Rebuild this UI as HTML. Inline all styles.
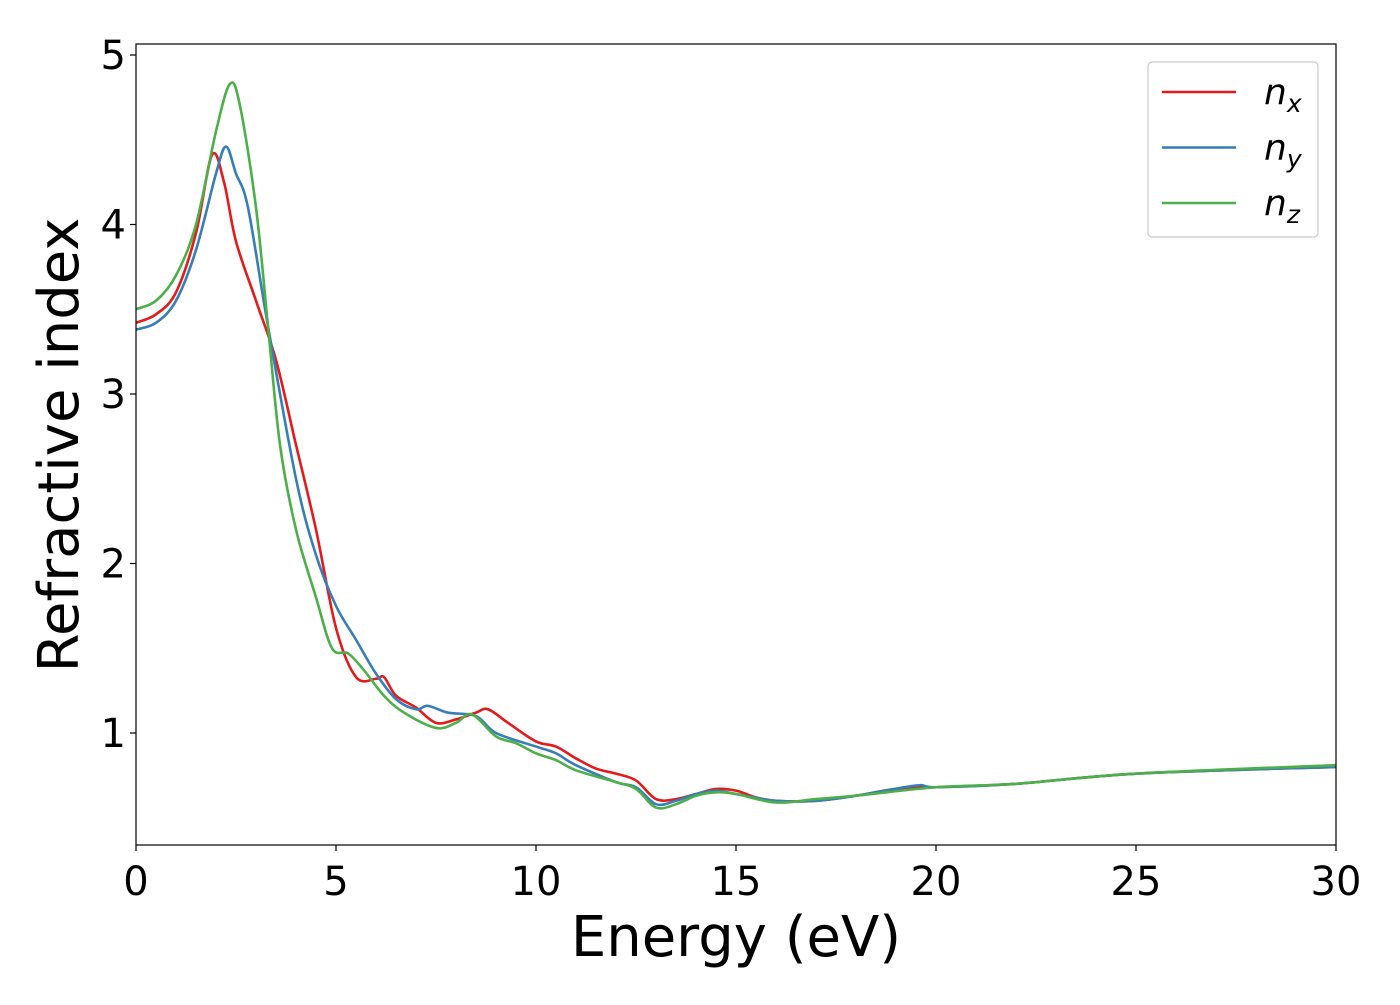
<!DOCTYPE html>
<html><head><meta charset="utf-8"><style>
body{margin:0;background:#fff;}
svg text{font-family:"DejaVu Sans","Liberation Sans",sans-serif;fill:#000;}
</style></head><body>
<svg id="chart" width="1400" height="1000" xmlns="http://www.w3.org/2000/svg"></svg>
<script>
const xTicks=[0,5,10,15,20,25,30];
const yTicks=[1,2,3,4,5];
const nxE=[0,0.5,1,1.5,1.9,2.2,2.5,3,3.5,4,4.5,5,5.5,6,6.2,6.5,7,7.5,8,8.5,8.8,9.3,10,10.5,11,11.5,12,12.5,13,13.5,14,14.5,15,15.5,16,17,18,19,20,22,25,30];
const nxV=[3.42,3.47,3.6,3.95,4.41,4.25,3.9,3.55,3.2,2.7,2.2,1.62,1.33,1.32,1.33,1.22,1.15,1.06,1.08,1.12,1.14,1.06,0.95,0.92,0.85,0.79,0.76,0.72,0.61,0.61,0.64,0.67,0.66,0.62,0.6,0.6,0.63,0.67,0.68,0.70,0.76,0.80];
const nyE=[0,0.5,1,1.5,2,2.25,2.5,2.8,3.3,4,4.5,5,5.5,6,6.5,7,7.3,7.8,8.5,9,10,10.5,11,12,12.5,13,13.5,14,14.5,15,16,17,18,19.5,20,22,25,30];
const nyV=[3.38,3.42,3.55,3.85,4.3,4.46,4.3,4.1,3.4,2.5,2.05,1.75,1.55,1.35,1.2,1.14,1.16,1.12,1.1,1.0,0.92,0.88,0.81,0.71,0.68,0.58,0.60,0.64,0.66,0.64,0.6,0.6,0.63,0.69,0.68,0.70,0.76,0.80];
const nzE=[0,0.5,1,1.5,2,2.35,2.6,3,3.3,3.6,4,4.5,4.9,5.3,5.7,6.2,6.7,7.5,8,8.4,9,9.5,10,10.5,11,12,12.5,13,13.5,14,14.5,15,16,17,18,20,22,25,30];
const nzV=[3.5,3.55,3.7,4.0,4.55,4.83,4.7,4.1,3.4,2.7,2.2,1.8,1.5,1.47,1.37,1.22,1.12,1.03,1.06,1.11,0.98,0.94,0.88,0.84,0.78,0.71,0.67,0.56,0.58,0.63,0.65,0.64,0.59,0.61,0.63,0.68,0.70,0.76,0.81];

const svg=document.getElementById('chart');
const NS='http://www.w3.org/2000/svg';
const L=136,R=1336,T=44,B=845;
const X=v=>L+(v/30)*(R-L);
const Y=v=>733-(v-1)*169.5;
function mk(tag,attrs,parent){const e=document.createElementNS(NS,tag);for(const k in attrs)e.setAttribute(k,attrs[k]);(parent||svg).appendChild(e);return e;}
function smooth(E,V){const p=E.map((e,i)=>[X(e),Y(V[i])]);let d='M'+p[0][0]+','+p[0][1];
for(let i=0;i<p.length-1;i++){const p0=p[i-1]||p[i],p1=p[i],p2=p[i+1],p3=p[i+2]||p2;
const c1=[p1[0]+(p2[0]-p0[0])/6,p1[1]+(p2[1]-p0[1])/6],c2=[p2[0]-(p3[0]-p1[0])/6,p2[1]-(p3[1]-p1[1])/6];
d+=`C${c1[0]},${c1[1]} ${c2[0]},${c2[1]} ${p2[0]},${p2[1]}`;}return d;}
const clip=mk('clipPath',{id:'pc'});mk('rect',{x:L,y:T,width:R-L,height:B-T},clip);
const series=[[nxE,nxV,'#e41a1c','series-nx'],[nyE,nyV,'#377eb8','series-ny'],[nzE,nzV,'#4daf4a','series-nz']];
series.forEach(s=>{const p=mk('path',{d:smooth(s[0],s[1]),fill:'none',stroke:s[2],'stroke-width':2.6,'clip-path':'url(#pc)'});

});
const frame=mk('rect',{x:L,y:T,width:R-L,height:B-T,fill:'none',stroke:'#000','stroke-width':1.2});


xTicks.forEach(t=>{mk('line',{x1:X(t),x2:X(t),y1:B,y2:B+6,stroke:'#000','stroke-width':1.2});
const tx=mk('text',{x:X(t),y:B+50,'font-size':40,'text-anchor':'middle'});tx.textContent=t;

});
yTicks.forEach(t=>{mk('line',{x1:L-6,x2:L,y1:Y(t),y2:Y(t),stroke:'#000','stroke-width':1.2});
const tx=mk('text',{x:L-10,y:Y(t)+14,'font-size':40,'text-anchor':'end'});tx.textContent=t;

});
const xt=mk('text',{x:736,y:956,'font-size':56,'text-anchor':'middle'});xt.textContent='Energy (eV)';


const yt=mk('text',{x:0,y:0,'font-size':56,'text-anchor':'middle',transform:'translate(78,445) rotate(-90)'});yt.textContent='Refractive index';


const lg=mk('g',{});


mk('rect',{x:1148,y:62,width:170,height:175,rx:4,fill:'#fff',stroke:'#ccc','stroke-width':1.2},lg);
const labs=[['n','x'],['n','y'],['n','z']];
series.forEach((s,i)=>{const y=92+i*55.5;
mk('line',{x1:1162,x2:1236,y1:y,y2:y,stroke:s[2],'stroke-width':2.6},lg);
const tx=mk('text',{x:1264,y:y+12,'font-size':36,'font-style':'italic'},lg);


tx.textContent=labs[i][0];
const sub=mk('tspan',{'font-size':25,dy:8},tx);sub.textContent=labs[i][1];});
</script>
</body></html>
